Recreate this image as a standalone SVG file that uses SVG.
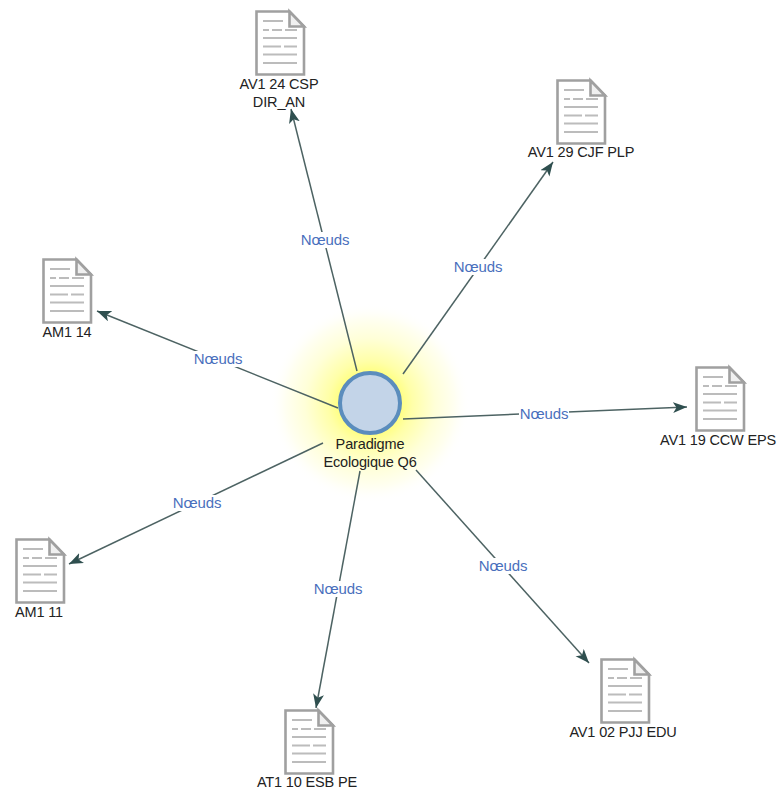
<svg xmlns="http://www.w3.org/2000/svg" width="777" height="791" viewBox="0 0 777 791">
<style>
text{font-family:"Liberation Sans",Arial,sans-serif;text-anchor:middle}
.n{fill:#222;font-size:14.500px;letter-spacing:-.15px}
.l{fill:#4a70bd;font-size:15px;letter-spacing:-.1px}
.c{stroke:#4d6363;stroke-width:1.5;fill:none;marker-end:url(#a)}
.d{fill:#fff;stroke:#a0a0a0;stroke-width:2.6}
.f{fill:#f0f0f0;stroke:#a0a0a0;stroke-width:2.6}
.t{stroke:#bcbcbc;stroke-width:1.8;fill:none}
.b{fill:#fff}
</style>
<defs>
<marker id="a" markerUnits="userSpaceOnUse" markerWidth="16" markerHeight="12" refX="14" refY="5.500" orient="auto"><path d="M0 0L14 5.500L0 11L3.500 5.500Z" fill="#2f4f4f"/></marker>
<radialGradient id="g"><stop offset="0.3" stop-color="#ffff80"/><stop offset="0.42" stop-color="#ffffa8"/><stop offset="0.65" stop-color="#ffffd8"/><stop offset="0.85" stop-color="#fffff2"/><stop offset="1" stop-color="#ffffff" stop-opacity="0"/></radialGradient>
<symbol id="doc" width="50" height="66" viewBox="0 0 50 66" overflow="visible">
<path class="d" d="M1.500 1.500H34.500L49 16.500V64.500H1.500Z"/>
<path class="f" d="M34.500 1.500V16.500H49Z"/>
<path class="t" d="M8 11H28M8 20H14M17 20H27M30 20H42M8 28H42M8 36.500H26M29 36.500H42M8 44.500H42M8 53H42"/>
</symbol>
</defs>
<circle id="glow" cx="370" cy="403" r="100" fill="url(#g)"/>
<g id="connectors">
<line class="c" x1="357" y1="371" x2="291" y2="109"/>
<line class="c" x1="403" y1="374" x2="553" y2="162"/>
<line class="c" x1="338" y1="408" x2="97" y2="311"/>
<line class="c" x1="403" y1="419" x2="687" y2="407"/>
<line class="c" x1="323" y1="443" x2="69" y2="564"/>
<line class="c" x1="360" y1="471" x2="316" y2="708"/>
<line class="c" x1="416" y1="470" x2="589" y2="663"/>
<rect class="b" x="300" y="232" width="50" height="16"/><text class="l" x="325" y="245">Nœuds</text>
<rect class="b" x="453" y="259" width="50" height="16"/><text class="l" x="478" y="272">Nœuds</text>
<rect class="b" x="193" y="351" width="50" height="16"/><text class="l" x="218" y="364">Nœuds</text>
<rect class="b" x="519" y="406" width="50" height="16"/><text class="l" x="544" y="419">Nœuds</text>
<rect class="b" x="172" y="495" width="50" height="16"/><text class="l" x="197" y="508">Nœuds</text>
<rect class="b" x="313" y="581" width="50" height="16"/><text class="l" x="338" y="594">Nœuds</text>
<rect class="b" x="478" y="558" width="50" height="16"/><text class="l" x="503" y="571">Nœuds</text>
</g>
<g id="center">
<circle cx="370" cy="403" r="30" fill="#c3d4e8" stroke="#5b8dbd" stroke-width="4"/>
<text class="n" x="370" y="449">Paradigme</text>
<text class="n" x="370" y="467">Ecologique Q6</text>
</g>
<g id="n1"><use href="#doc" x="255" y="10"/><text class="n" x="279" y="89">AV1 24 CSP</text><text class="n" x="279" y="107">DIR_AN</text></g>
<g id="n2"><use href="#doc" x="556" y="79"/><text class="n" x="581" y="157">AV1 29 CJF PLP</text></g>
<g id="n3"><use href="#doc" x="42" y="258"/><text class="n" x="67" y="337">AM1 14</text></g>
<g id="n4"><use href="#doc" x="695" y="366"/><text class="n" x="718" y="445">AV1 19 CCW EPS</text></g>
<g id="n5"><use href="#doc" x="15" y="538"/><text class="n" x="39" y="617">AM1 11</text></g>
<g id="n6"><use href="#doc" x="284" y="709"/><text class="n" x="307" y="787">AT1 10 ESB PE</text></g>
<g id="n7"><use href="#doc" x="600" y="658"/><text class="n" x="623" y="737">AV1 02 PJJ EDU</text></g>
</svg>
